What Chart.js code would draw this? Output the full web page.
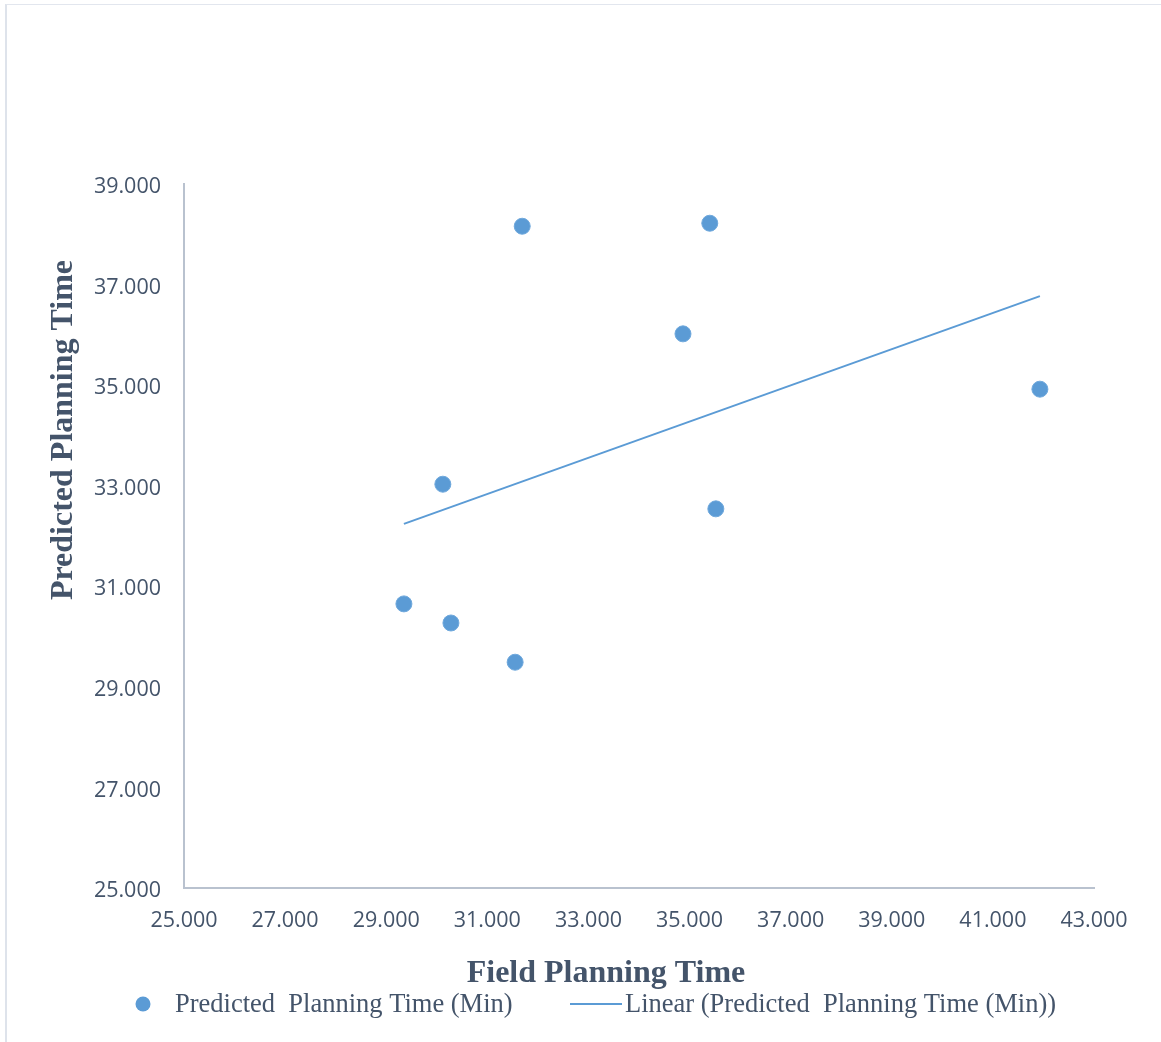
<!DOCTYPE html>
<html>
<head>
<meta charset="utf-8">
<script src="https://cdn.jsdelivr.net/npm/chart.js@4.4.0/dist/chart.umd.min.js"></script>
<style>
  html, body { margin:0; padding:0; background:#fff; overflow:hidden; }
  #frame { position:absolute; left:5px; top:4px; width:1200px; height:1100px;
           border-left:2px solid #DEE3EB; border-top:1px solid #E2E6EE; box-sizing:border-box; }
  #wrap { position:absolute; left:0; top:0; width:1161px; height:1042px; }
</style>
</head>
<body>
<div id="frame"></div>
<div id="wrap"><canvas id="c" width="1161" height="1042"></canvas></div>
<script>
// Data
const fieldTime     = [29.35, 30.12, 30.28, 31.55, 31.69, 34.87, 35.40, 35.52, 41.93];
const predictedTime = [30.65, 33.03, 30.27, 29.49, 38.16, 36.02, 38.22, 32.54, 34.92];
const trendX = [29.35, 41.93];
const trendY = [32.24, 36.77];
const xTickValues = [25, 27, 29, 31, 33, 35, 37, 39, 41, 43];
const yTickValues = [25, 27, 29, 31, 33, 35, 37, 39];
const seriesLabel = 'Predicted  Planning Time (Min)';
const trendLabel  = 'Linear (Predicted  Planning Time (Min))';
const xTitle = 'Field Planning Time';
const yTitle = 'Predicted Planning Time';

const BLUE = '#5B9BD5';
const TEXT = '#44546A';
const AXIS = '#B9C2CF';

const points = fieldTime.map((x, i) => ({ x: x, y: predictedTime[i] }));
const trend  = trendX.map((x, i) => ({ x: x, y: trendY[i] }));

const decorPlugin = {
  id: 'decor',
  afterDraw(chart) {
    const ctx = chart.ctx;
    ctx.save();
    ctx.fillStyle = TEXT;
    // axis titles
    ctx.font = 'bold 32px "Liberation Serif"';
    ctx.textAlign = 'center';
    ctx.textBaseline = 'middle';
    ctx.fillText(xTitle, 606, 974);
    ctx.save();
    ctx.translate(64, 430);
    ctx.rotate(-Math.PI / 2);
    ctx.fillText(yTitle, 0, 0);
    ctx.restore();
    // legend
    const ly = 1004;
    ctx.beginPath();
    ctx.arc(143, ly, 7.5, 0, Math.PI * 2);
    ctx.fillStyle = BLUE;
    ctx.fill();
    ctx.strokeStyle = BLUE;
    ctx.lineWidth = 2;
    ctx.beginPath();
    ctx.moveTo(570, ly);
    ctx.lineTo(622, ly);
    ctx.stroke();
    ctx.fillStyle = TEXT;
    ctx.font = '26.5px "Liberation Serif"';
    ctx.textAlign = 'left';
    ctx.fillText(chart.data.datasets[0].label, 175, ly + 1);
    ctx.fillText(chart.data.datasets[1].label, 625, ly + 1);
    ctx.restore();
  }
};

new Chart(document.getElementById('c'), {
  type: 'scatter',
  data: {
    datasets: [
      {
        label: seriesLabel,
        data: points,
        pointRadius: 8,
        pointHoverRadius: 8,
        backgroundColor: BLUE,
        borderColor: '#6FA8DC',
        borderWidth: 1,
        order: 1
      },
      {
        label: trendLabel,
        type: 'line',
        data: trend,
        showLine: true,
        pointRadius: 0,
        borderColor: BLUE,
        borderWidth: 2,
        fill: false,
        order: 2
      }
    ]
  },
  options: {
    responsive: false,
    animation: false,
    layout: { padding: { left: 0, top: 184, right: 67, bottom: 94 } },
    plugins: { legend: { display: false }, tooltip: { enabled: false } },
    scales: {
      x: {
        type: 'linear',
        min: 25, max: 43,
        afterBuildTicks: (s) => { s.ticks = xTickValues.map(v => ({ value: v })); },
        afterFit: (s) => { s.height = 60; },
        grid: { display: false, drawTicks: false },
        border: { display: true, color: AXIS, width: 2 },
        ticks: {
          padding: 20,
          color: TEXT,
          font: { family: '"Open Sans"', size: 21.5 },
          callback: (v) => Number(v).toFixed(3)
        }
      },
      y: {
        type: 'linear',
        min: 25, max: 39,
        afterBuildTicks: (s) => { s.ticks = yTickValues.map(v => ({ value: v })); },
        afterFit: (s) => { s.width = 184; },
        grid: { display: false, drawTicks: false },
        border: { display: true, color: AXIS, width: 2 },
        ticks: {
          padding: 23,
          labelOffset: 3,
          color: TEXT,
          font: { family: '"Open Sans"', size: 21.5 },
          callback: (v) => Number(v).toFixed(3)
        }
      }
    }
  },
  plugins: [decorPlugin]
});
</script>
</body>
</html>
